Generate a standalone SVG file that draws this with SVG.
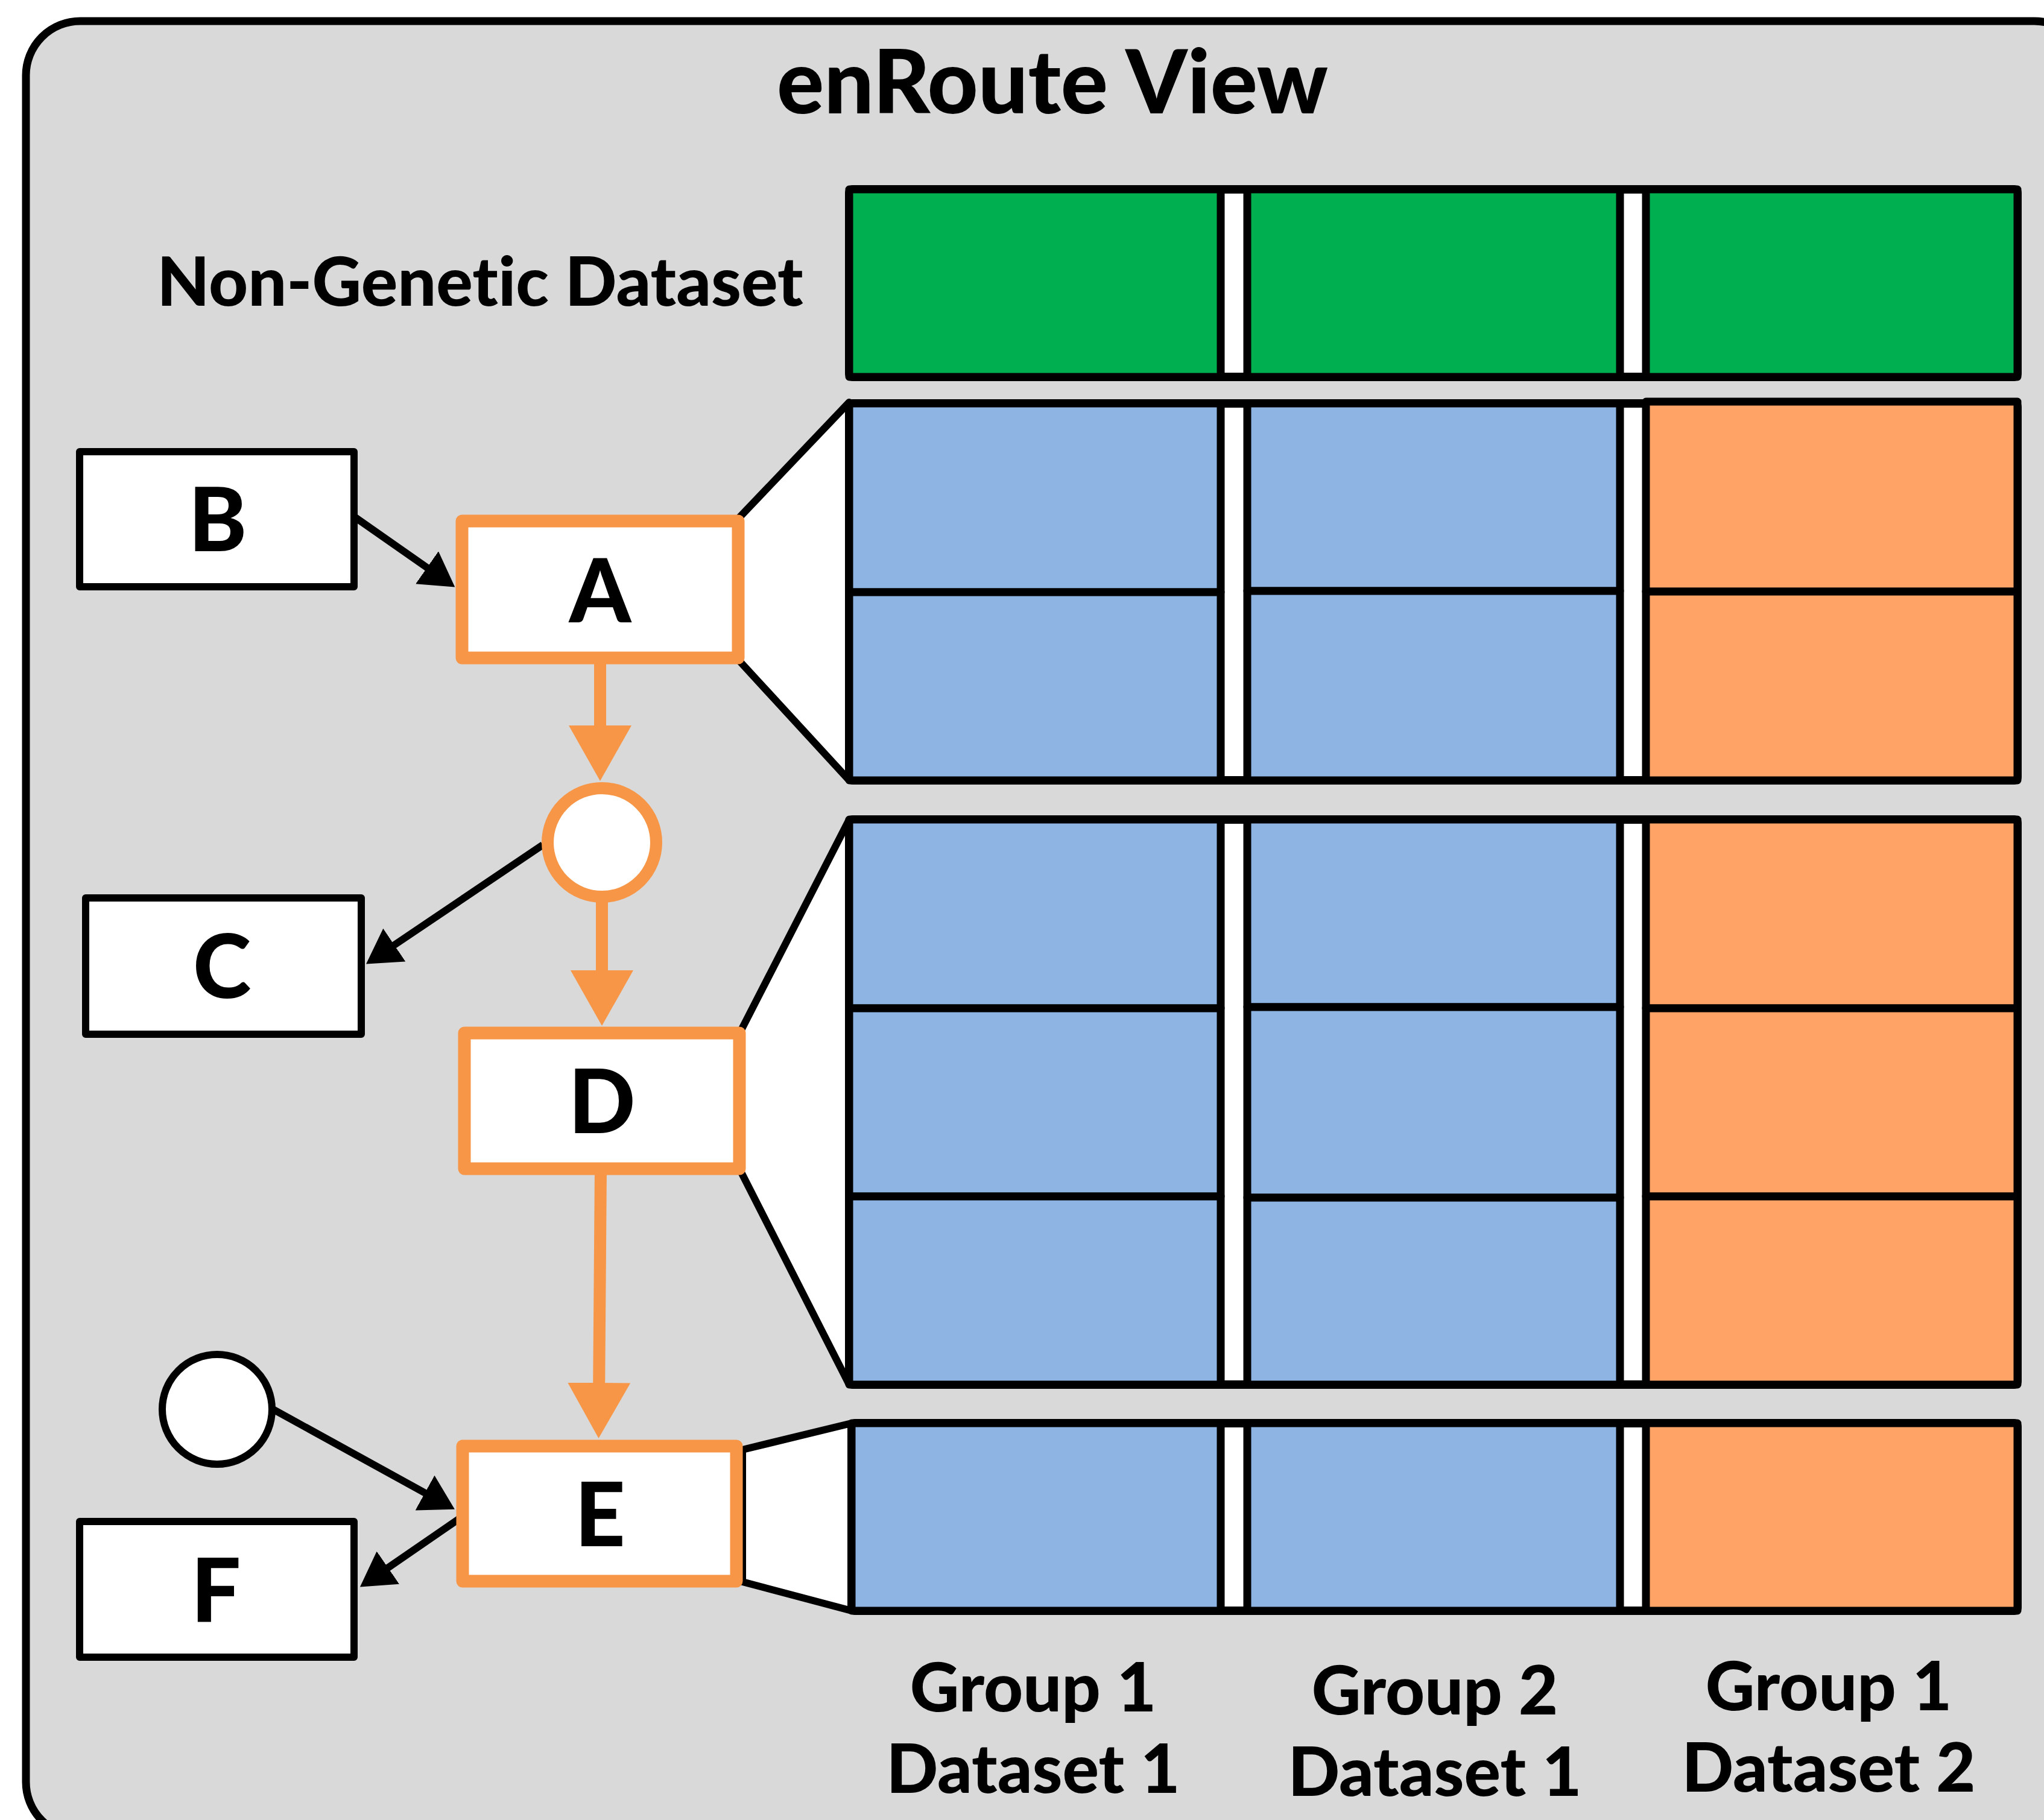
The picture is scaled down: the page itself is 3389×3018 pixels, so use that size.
<svg xmlns="http://www.w3.org/2000/svg" width="3389" height="3018" viewBox="0 0 3389 3018">
<style>
text{font-family:Lato,"Liberation Sans",sans-serif;font-weight:900;fill:#000;text-anchor:middle;font-variant-ligatures:none;font-feature-settings:"liga" 0}
.title{font-size:146px}
.lbl{font-size:113px}
.node{font-size:146px}
.box{fill:#fff;stroke:#000;stroke-width:12;stroke-linejoin:round}
.obox{fill:#fff;stroke:#F79646;stroke-width:21;stroke-linejoin:round}
.trap{fill:#fff;stroke:#000;stroke-width:12;stroke-linejoin:round}
.frame{fill:#fff;stroke:#000;stroke-width:14;stroke-linejoin:round}
.cell{stroke:#000;stroke-width:13;stroke-linejoin:round}
.g{fill:#00B050}.b{fill:#8EB4E3}.o{fill:#FFA366}
.blk{fill:none;stroke:#000;stroke-width:12}
.org{fill:none;stroke:#F79646;stroke-width:20}
</style>
<defs>
<marker id="ab" viewBox="0 0 4.7 5.5" refX="0.2" refY="2.75" markerWidth="4.7" markerHeight="5.5" orient="auto"><path d="M0,0 L4.7,2.75 L0,5.5 z" fill="#000"/></marker>
<marker id="ao" viewBox="0 0 4.6 5.2" refX="0.2" refY="2.6" markerWidth="4.6" markerHeight="5.2" orient="auto"><path d="M0,0 L4.6,2.6 L0,5.2 z" fill="#F79646"/></marker>
</defs>
<rect x="43" y="35" width="3420" height="3010" rx="90" fill="#D9D9D9" stroke="#000" stroke-width="13"/>
<text class="title" x="1745" y="188">enRoute View</text>
<text class="lbl" x="796" y="507">Non-Genetic Dataset</text>

<g id="trapezoids">
<polygon class="trap" points="1226,858 1408,667 1408,1294 1226,1096"/>
<polygon class="trap" points="1228,1710 1408,1359 1408,2296 1228,1942"/>
<polygon class="trap" points="1231,2404 1412,2360 1412,2671 1231,2623"/>
</g>

<g id="grid-nongenetic">
<rect class="frame" x="1408" y="314" width="1937" height="311" rx="6"/>
<rect class="cell g" x="1408" y="314" width="616" height="311"/>
<rect class="cell g" x="2068" y="314" width="618" height="311"/>
<rect class="cell g" x="2729" y="314" width="616" height="311"/>
</g>
<g id="grid-A">
<rect class="frame" x="1408" y="669" width="1937" height="625" rx="6"/>
<rect class="cell b" x="1408" y="669" width="616" height="313"/>
<rect class="cell b" x="1408" y="982" width="616" height="312"/>
<rect class="cell b" x="2068" y="669" width="618" height="311"/>
<rect class="cell b" x="2068" y="980" width="618" height="314"/>
<rect class="cell o" x="2729" y="666" width="616" height="315"/>
<rect class="cell o" x="2729" y="981" width="616" height="313"/>
</g>
<g id="grid-D">
<rect class="frame" x="1408" y="1359" width="1937" height="937" rx="6"/>
<rect class="cell b" x="1408" y="1359" width="616" height="313"/>
<rect class="cell b" x="1408" y="1672" width="616" height="312"/>
<rect class="cell b" x="1408" y="1984" width="616" height="312"/>
<rect class="cell b" x="2068" y="1359" width="618" height="311"/>
<rect class="cell b" x="2068" y="1670" width="618" height="316"/>
<rect class="cell b" x="2068" y="1986" width="618" height="310"/>
<rect class="cell o" x="2729" y="1359" width="616" height="313"/>
<rect class="cell o" x="2729" y="1672" width="616" height="312"/>
<rect class="cell o" x="2729" y="1984" width="616" height="312"/>
</g>
<g id="grid-E">
<rect class="frame" x="1412" y="2360" width="1933" height="311" rx="6"/>
<rect class="cell b" x="1412" y="2360" width="612" height="311"/>
<rect class="cell b" x="2068" y="2360" width="618" height="311"/>
<rect class="cell o" x="2729" y="2360" width="616" height="311"/>
</g>

<g id="column-labels">
<text class="lbl" x="1713" y="2838">Group 1</text>
<text class="lbl" x="1713" y="2973">Dataset 1</text>
<text class="lbl" x="2379" y="2843">Group 2</text>
<text class="lbl" x="2379" y="2978">Dataset 1</text>
<text class="lbl" x="3032" y="2836">Group 1</text>
<text class="lbl" x="3032" y="2971">Dataset 2</text>
</g>

<g id="connectors">
<line class="blk" x1="589" y1="858" x2="710" y2="942.6" marker-end="url(#ab)"/>
<line class="org" x1="995" y1="1091" x2="995" y2="1207" marker-end="url(#ao)"/>
<line class="org" x1="998" y1="1487" x2="998" y2="1613" marker-end="url(#ao)"/>
<line class="blk" x1="900" y1="1401" x2="651.8" y2="1568.4" marker-end="url(#ab)"/>
<line class="org" x1="996" y1="1938" x2="993.2" y2="2297" marker-end="url(#ao)"/>
<line class="blk" x1="451" y1="2336" x2="706.6" y2="2476.7" marker-end="url(#ab)"/>
<line class="blk" x1="762" y1="2518" x2="641.4" y2="2601" marker-end="url(#ab)"/>
</g>

<g id="node-B"><rect class="box" x="132" y="749" width="455" height="224"/><text class="node" x="361" y="914">B</text></g>
<g id="node-A"><rect class="obox" x="766" y="864" width="458" height="227"/><text class="node" x="995" y="1032">A</text></g>
<g id="node-split1"><circle cx="998" cy="1397" r="90" fill="#fff" stroke="#F79646" stroke-width="20"/></g>
<g id="node-C"><rect class="box" x="142" y="1489" width="457" height="226"/><text class="node" x="368" y="1655">C</text></g>
<g id="node-D"><rect class="obox" x="770" y="1713" width="456" height="225"/><text class="node" x="998" y="1879">D</text></g>
<g id="node-split2"><circle cx="360" cy="2337" r="91" fill="#fff" stroke="#000" stroke-width="12"/></g>
<g id="node-E"><rect class="obox" x="767" y="2398" width="454" height="224"/><text class="node" x="995" y="2564">E</text></g>
<g id="node-F"><rect class="box" x="132" y="2523" width="455" height="225"/><text class="node" x="358" y="2690">F</text></g>
</svg>
